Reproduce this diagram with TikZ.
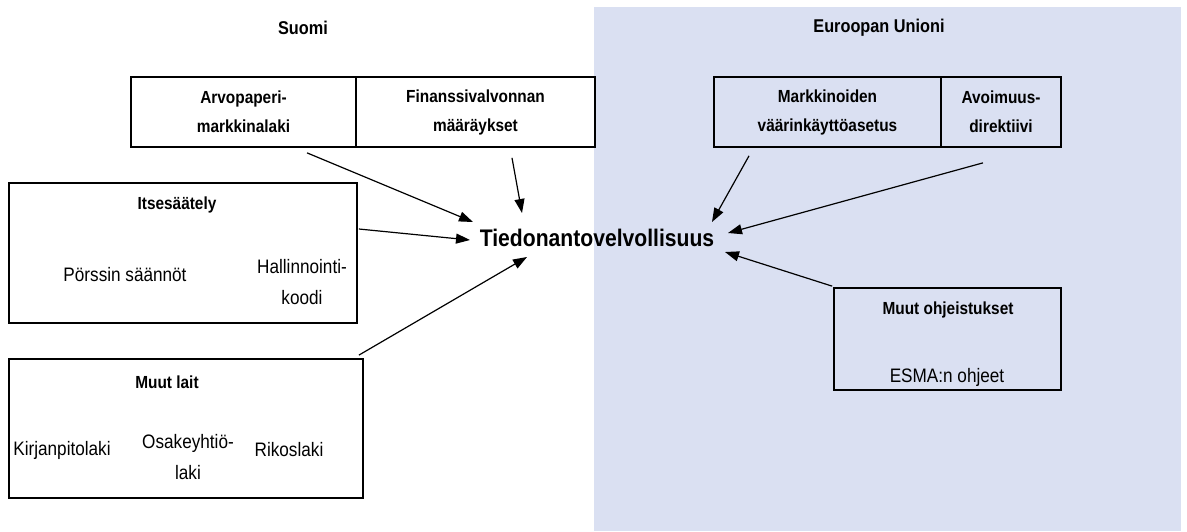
\documentclass[tikz,border=0pt]{standalone}
\usepackage{fontspec}
\setmainfont{Liberation Sans}[FakeStretch=0.88]
\usetikzlibrary{arrows.meta,calc}
\definecolor{euback}{RGB}{218,224,242}

\tikzset{
  box/.style={draw=black,line width=1.7pt,inner sep=0pt,align=center},
  head/.style={font=\fontsize{17.5}{29}\selectfont\bfseries,align=center},
  item/.style={font=\fontsize{19.5}{31}\selectfont,align=center},
  link/.style={-{Triangle[length=14pt,width=10pt]},line width=1.2pt}
}

\begin{document}
\begin{tikzpicture}[x=1pt,y=-1pt]
  \useasboundingbox (0,0) rectangle (1187,531);
  % EU side
  \fill[euback] (594,7) rectangle (1181,531);
  \node[head,font=\fontsize{18.5}{29}\selectfont\bfseries] (suomi) at (303,28) {Suomi};
  \node[head,font=\fontsize{18.5}{29}\selectfont\bfseries] (eu) at (879,28) {Euroopan Unioni};

  % top row
  \node[box,head,fill=white,minimum width=225pt,minimum height=70pt]
    (arvo) at (243.5,112) {Arvopaperi-\\markkinalaki};
  \node[box,head,fill=white,minimum width=239pt,minimum height=70pt]
    (fina) at (475.5,112) {Finanssivalvonnan\\määräykset};
  \node[box,head,minimum width=227pt,minimum height=70pt]
    (markk) at (827.5,112) {Markkinoiden\\väärinkäyttöasetus};
  \node[box,head,minimum width=120pt,minimum height=70pt]
    (avoim) at (1001,112) {Avoimuus-\\direktiivi};

  % left boxes
  \node[box,minimum width=348pt,minimum height=140pt] (itse) at (183,253) {};
  \node[head] (itsetit) at (177,205) {Itsesäätely};
  \node[item] (porssi) at (125,275) {Pörssin säännöt};
  \node[item] (hallin) at (302,282) {Hallinnointi-\\koodi};

  \node[box,minimum width=354pt,minimum height=139pt] (lait) at (186,428.5) {};
  \node[head] (laittit) at (167,382) {Muut lait};
  \node[item] (kirja) at (62,450) {Kirjanpitolaki};
  \node[item] (osake) at (188,457) {Osakeyhtiö-\\laki};
  \node[item] (rikos) at (289,450) {Rikoslaki};

  % right box
  \node[box,minimum width=227pt,minimum height=102pt] (ohje) at (947.5,339) {};
  \node[head] (ohjetit) at (948,310) {Muut ohjeistukset};
  \node[item] (esma) at (947,377) {ESMA:n ohjeet};

  % centre
  \node[font=\fontsize{24}{28}\selectfont\bfseries] (tiedon) at (597,238)
    {Tiedonantovelvollisuus};

  % arrows
  \draw[link] ($(arvo.south)+(63.5,5)$) -- ($(tiedon)+(-124,-16)$);
  \draw[link] ($(fina.south)+(36.5,10)$) -- ($(tiedon)+(-75,-25)$);
  \draw[link] ($(itse.east)+(1,-24)$) -- ($(tiedon)+(-127,2)$);
  \draw[link] ($(lait.north east)+(-5,-3)$) -- ($(tiedon)+(-70,19)$);
  \draw[link] ($(markk.south)+(-78.5,8)$) -- ($(tiedon)+(115,-16)$);
  \draw[link] ($(avoim.south)+(-18,15)$) -- ($(tiedon)+(131,-5)$);
  \draw[link] ($(ohje.north west)+(-1,-1)$) -- ($(tiedon)+(128,14)$);
\end{tikzpicture}
\end{document}
